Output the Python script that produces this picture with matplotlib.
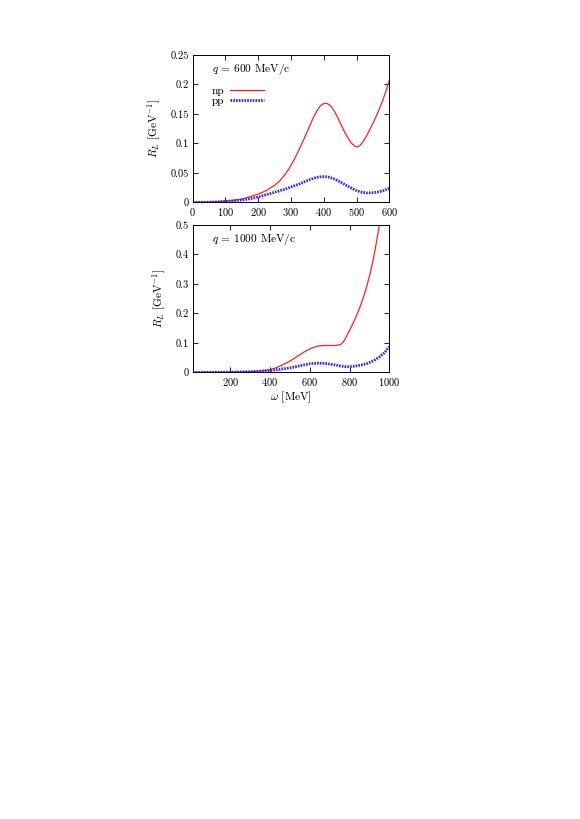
import matplotlib
matplotlib.use("Agg")
import matplotlib.pyplot as plt

plt.rcParams['font.family'] = 'serif'
plt.rcParams['font.serif'] = ['cmr10', 'DejaVu Serif']
plt.rcParams['mathtext.fontset'] = 'cm'
plt.rcParams['axes.formatter.use_mathtext'] = True
plt.rcParams['axes.unicode_minus'] = False

# ---- data: q = 600 MeV/c ----
w600 = [0, 25, 50, 75, 100, 125, 150, 175, 200, 225, 250, 265, 280, 295, 310,
        325, 340, 355, 370, 380, 390, 400, 408, 416, 425, 435, 445, 455, 465,
        475, 485, 495, 502, 510, 520, 530, 540, 550, 560, 570, 580, 590, 600]
np600 = [0.0, 0.0001, 0.0003, 0.001, 0.002, 0.0035, 0.0055, 0.0095, 0.014, 0.020,
         0.029, 0.036, 0.046, 0.058, 0.073, 0.090, 0.108, 0.127, 0.146, 0.156,
         0.164, 0.1675, 0.168, 0.166, 0.161, 0.152, 0.141, 0.129, 0.118,
         0.108, 0.100, 0.095, 0.094, 0.096, 0.103, 0.112, 0.123, 0.134, 0.146,
         0.159, 0.173, 0.189, 0.207]
pp600 = [0.0, 0.0001, 0.0002, 0.0007, 0.0015, 0.0025, 0.004, 0.006, 0.009, 0.013,
         0.017, 0.0195, 0.022, 0.025, 0.028, 0.031, 0.0345, 0.038, 0.041, 0.0425,
         0.0432, 0.0435, 0.0433, 0.0425, 0.041, 0.039, 0.036, 0.033, 0.030,
         0.027, 0.024, 0.021, 0.0195, 0.018, 0.0168, 0.016, 0.016, 0.0163, 0.017,
         0.018, 0.0195, 0.0215, 0.0235]

# ---- data: q = 1000 MeV/c ----
w1000 = [12, 100, 200, 300, 350, 400, 430, 460, 490, 520, 550, 580, 610, 640,
         670, 700, 730, 755, 770, 785, 800, 815, 830, 845, 860, 875, 890, 905,
         920, 935, 950, 965]
np1000 = [0.0, 0.0001, 0.0005, 0.002, 0.004, 0.009, 0.015, 0.024, 0.034, 0.046,
          0.060, 0.072, 0.082, 0.089, 0.091, 0.091, 0.091, 0.094, 0.104, 0.122,
          0.142, 0.162, 0.184, 0.208, 0.235, 0.265, 0.300, 0.340, 0.385, 0.440,
          0.500, 0.570]
w1000_pp = [12, 100, 200, 300, 350, 400, 450, 500, 550, 600, 640, 680, 720, 750,
            780, 800, 830, 860, 890, 920, 950, 975, 1000]
pp1000 = [0.0, 0.0001, 0.0005, 0.002, 0.004, 0.006, 0.010, 0.015, 0.022, 0.029,
          0.031, 0.030, 0.026, 0.022, 0.019, 0.019, 0.021, 0.025, 0.030, 0.039,
          0.052, 0.066, 0.087]

xticks_top = [0, 100, 200, 300, 400, 500, 600]
yticks_top = [0, 0.05, 0.1, 0.15, 0.2, 0.25]
ytick_top_labels = ['0', '0.05', '0.1', '0.15', '0.2', '0.25']
xticks_bot = [200, 400, 600, 800, 1000]
yticks_bot = [0, 0.1, 0.2, 0.3, 0.4, 0.5]
ytick_bot_labels = ['0', '0.1', '0.2', '0.3', '0.4', '0.5']

RED = '#ff2020'
BLUE = '#2a2aff'
FS = 7.5
FT = 8.2

fig = plt.figure(figsize=(5.8, 8.19), dpi=100)
ax1 = fig.add_axes([192.7/580, 1-202.3/819, 196.6/580, 147.3/819])
ax2 = fig.add_axes([192.7/580, 1-372.3/819, 196.6/580, 147.3/819])

for ax in (ax1, ax2):
    ax.tick_params(direction='in', top=True, right=True, length=3.5, width=0.6,
                   labelsize=FS, pad=3)
    for s in ax.spines.values():
        s.set_linewidth(0.7)

l1, = ax1.plot(w600, np600, color=RED, lw=0.9, label='np')
l2, = ax1.plot(w600, pp600, color=BLUE, lw=2.0, ls=(0, (0.6, 0.4)), label='pp')
ax1.set_xlim(0, 600)
ax1.set_ylim(0, 0.25)
ax1.set_xticks(xticks_top)
ax1.set_yticks(yticks_top)
ax1.set_yticklabels(ytick_top_labels)
ax1.text(0.10, 0.90, r'$q$ = 600 MeV/c', transform=ax1.transAxes, fontsize=FT,
         ha='left', va='center')
ax1.legend(handles=[l1, l2], loc='upper left', bbox_to_anchor=(0.055, 0.845),
           frameon=False, markerfirst=False, fontsize=FT, handlelength=3.0,
           handletextpad=0.5, labelspacing=0.0, borderpad=0.2)
ax1.set_ylabel(r'$R_L$ [GeV$^{-1}$]', fontsize=FT, labelpad=5)

ax2.plot(w1000, np1000, color=RED, lw=0.9)
ax2.plot(w1000_pp, pp1000, color=BLUE, lw=2.0, ls=(0, (0.6, 0.4)))
ax2.set_xlim(12, 1000)
ax2.set_ylim(0, 0.5)
ax2.set_xticks(xticks_bot)
ax2.set_yticks(yticks_bot)
ax2.set_yticklabels(ytick_bot_labels)
ax2.text(0.10, 0.90, r'$q$ = 1000 MeV/c', transform=ax2.transAxes, fontsize=FT,
         ha='left', va='center')
ax2.set_ylabel(r'$R_L$ [GeV$^{-1}$]', fontsize=FT, labelpad=5)
ax2.set_xlabel(r'$\omega$ [MeV]', fontsize=FT, labelpad=1)

fig.savefig('out.png', dpi=100)
